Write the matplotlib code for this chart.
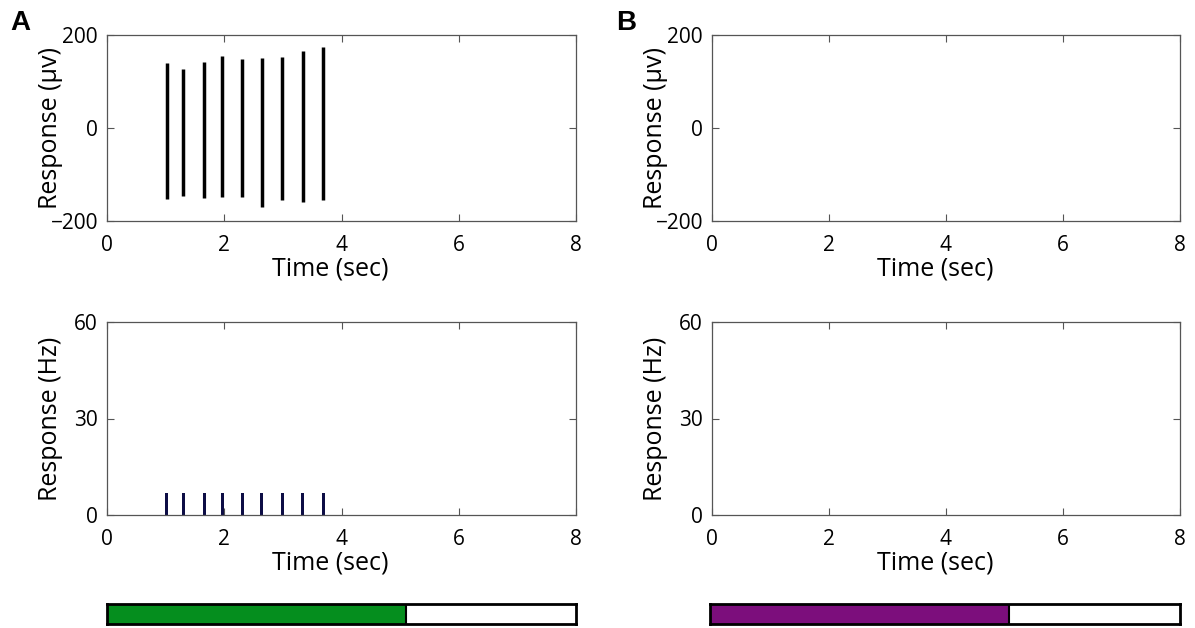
import matplotlib
matplotlib.use("Agg")
import matplotlib.pyplot as plt
import numpy as np

plt.rcParams['font.family'] = ['Open Sans', 'DejaVu Sans']

# Data
spike_times = [1.02, 1.30, 1.66, 1.97, 2.31, 2.64, 2.99, 3.34, 3.69]
spike_tops = [139, 126, 142, 155, 148, 150, 153, 165, 175]
spike_bottoms = [-153, -146, -150, -148, -148, -169, -154, -160, -155]
rate_values = [6.7] * 9
stim_fraction_A = 0.637
stim_fraction_B = 0.637
x_ticks = [0, 2, 4, 6, 8]
y_ticks_top = [-200, 0, 200]
y_ticks_bottom = [0, 30, 60]

fig = plt.figure(figsize=(11.95, 6.28), dpi=100)

W, H = 1195, 628
def ax_px(l, r, t, b):
    return fig.add_axes([l / W, 1 - b / H, (r - l) / W, (b - t) / H])

def style(ax, l, r, t, b):
    ax.tick_params(direction='in', top=True, right=True, length=5, width=0.8,
                   labelsize=15, colors='#555555', labelcolor='black')
    ax.tick_params(axis='x', pad=10)
    ax.tick_params(axis='y', pad=6.5)
    for s in ax.spines.values():
        s.set_color('#555555')
        s.set_linewidth(0.9)
    ax.set_xlim(0, 8)
    ax.set_xticks(x_ticks)
    ax.set_xlabel('Time (sec)', fontsize=18)
    ax.xaxis.set_label_coords(0.5 - 11 / (r - l), -48 / (b - t))
    ax.xaxis.label.set_va('center')

axes = {}
for name, l, r in [('A', 107, 576), ('B', 712, 1180)]:
    a1 = ax_px(l, r, 35, 221)
    style(a1, l, r, 35, 221)
    a1.set_ylim(-200, 200)
    a1.set_yticks(y_ticks_top)
    a1.set_yticklabels(['\u2212200', '0', '200'])
    a1.set_ylabel('Response (\u03bcv)', fontsize=18)
    a1.yaxis.set_label_coords(-57 / (r - l), 0.5)
    a1.yaxis.label.set_va('center')
    a2 = ax_px(l, r, 322, 515)
    style(a2, l, r, 322, 515)
    a2.set_ylim(0, 60)
    a2.set_yticks(y_ticks_bottom)
    a2.set_ylabel('Response (Hz)', fontsize=18)
    a2.yaxis.set_label_coords(-57 / (r - l), 0.5)
    a2.yaxis.label.set_va('center')
    axes[name] = (a1, a2)

a1, a2 = axes['A']
a1.vlines(spike_times, spike_bottoms, spike_tops, color='black', linewidth=2.5)
a2.bar(spike_times, rate_values, width=0.055, color='#0d0d45', edgecolor='none')

# Stimulus bars
for l, r, frac, col in [(107, 576, stim_fraction_A, '#058e1e'), (710, 1180, stim_fraction_B, '#7c0e7c')]:
    bx = ax_px(l, r, 604, 624)
    bx.set_xlim(0, 1)
    bx.set_ylim(0, 1)
    bx.barh(0.5, frac, height=1, left=0, color=col, edgecolor='none')
    bx.axvline(frac, color='black', linewidth=1.5)
    bx.set_xticks([])
    bx.set_yticks([])
    for s in bx.spines.values():
        s.set_color('black')
        s.set_linewidth(2)

fig.text(20 / W, 1 - 23 / H, 'A', fontsize=20, fontweight='bold', ha='center', va='center',
         family=['Liberation Sans'])
fig.text(626.5 / W, 1 - 23 / H, 'B', fontsize=20, fontweight='bold', ha='center', va='center',
         family=['Liberation Sans'])

fig.savefig('out.png', dpi=100)
